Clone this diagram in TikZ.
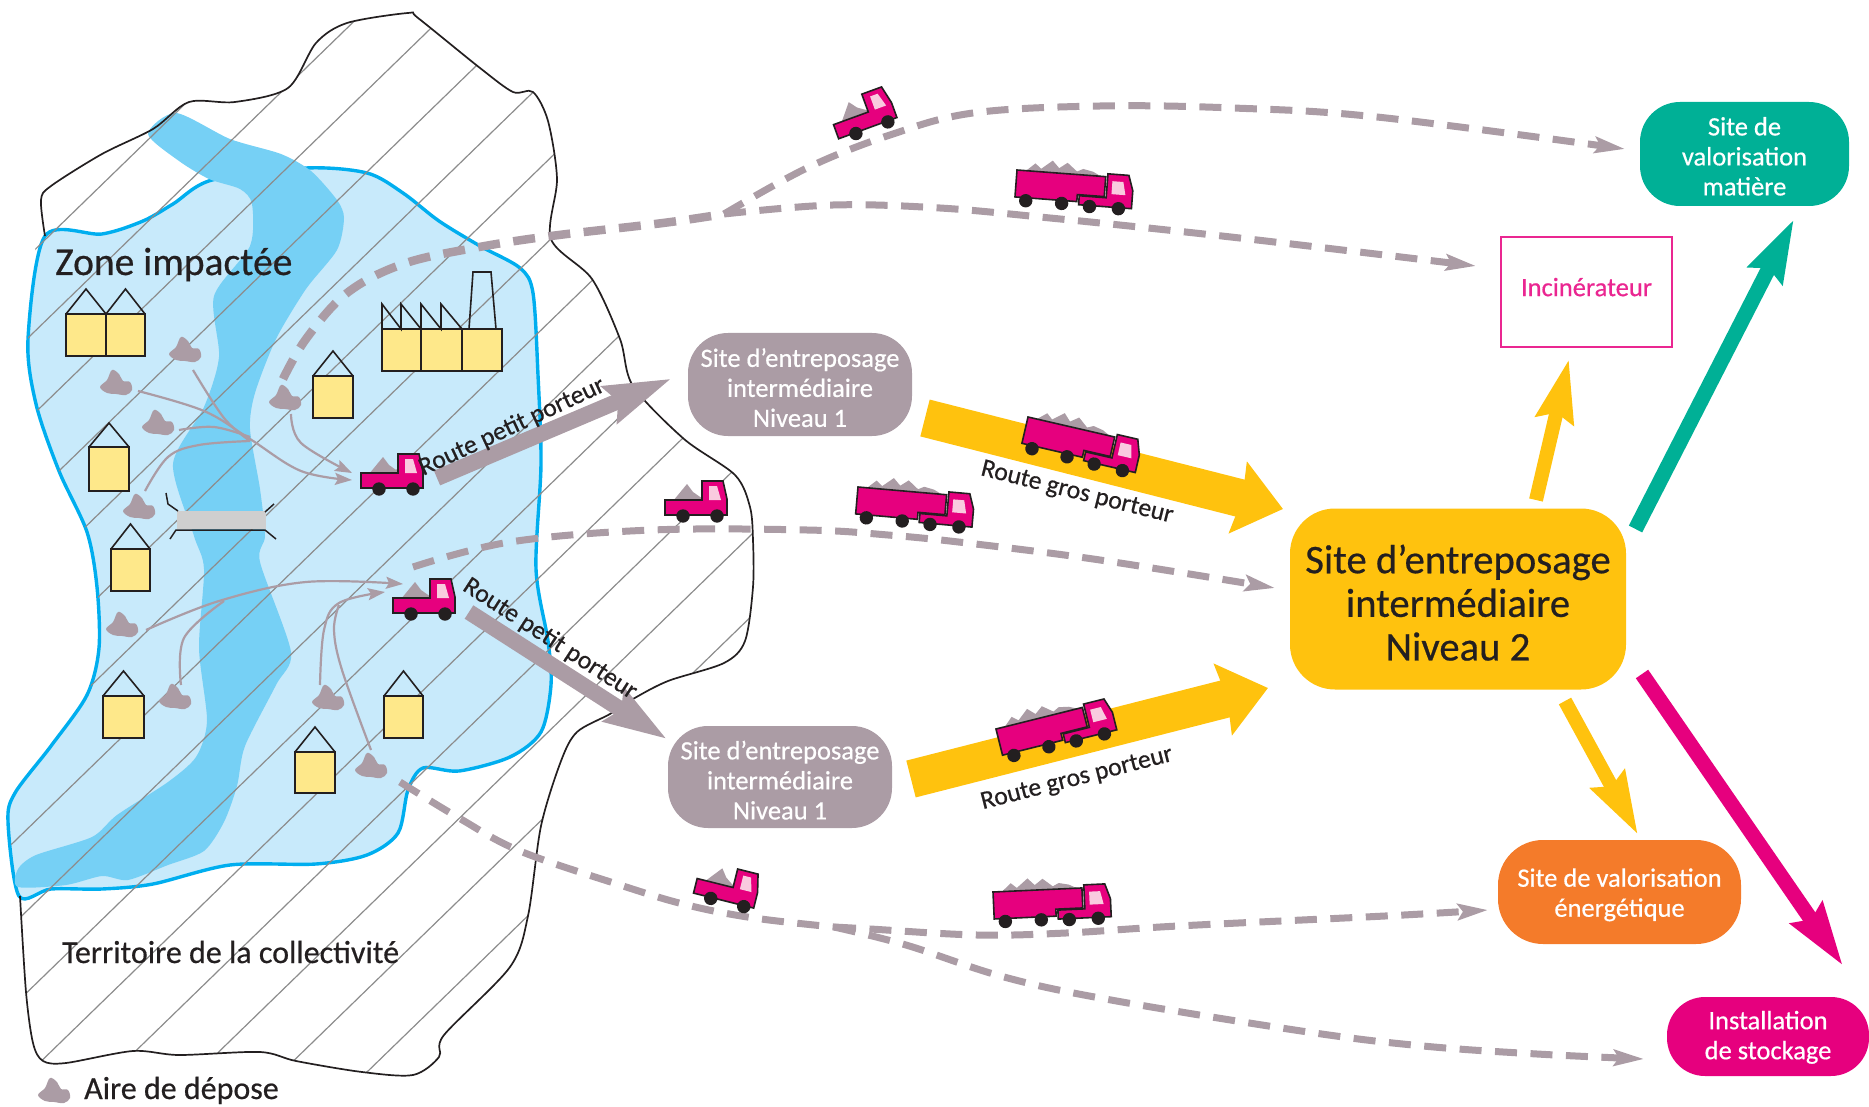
\documentclass[tikz,border=0pt]{standalone}
\usepackage{fontspec}
\setmainfont[FakeBold=0.5]{Carlito}
\usetikzlibrary{arrows.meta,calc}
\definecolor{mauve}{HTML}{AB9CA5}
\definecolor{zone}{HTML}{C8EAFB}
\definecolor{riv}{HTML}{76D0F5}
\definecolor{zoneline}{HTML}{00AEEF}
\definecolor{hatch}{HTML}{8C8C8C}
\definecolor{ink}{HTML}{231F20}
\definecolor{pinkm}{HTML}{E6007E}
\definecolor{lpink}{HTML}{F9CBDF}
\definecolor{yel}{HTML}{FFC20E}
\definecolor{teal2}{HTML}{00B096}
\definecolor{orng}{HTML}{F47B2A}
\definecolor{hous}{HTML}{FEE88A}
\tikzset{
 x=1pt,y=-1pt,
 sitebox/.style={inner sep=0pt,align=center,text=white,font=\fontsize{26.5}{30}\selectfont},
 roadtext/.style={inner sep=0pt,text=ink,font=\fontsize{25.7}{30}\selectfont},
 planetext/.style={inner sep=0pt,anchor=base west,text=ink},
 thin arrow/.style={draw=mauve,line width=2.2pt,-{Stealth[length=17pt,width=12pt,inset=3pt]}},
 thin line/.style={draw=mauve,line width=2.2pt},
 dashroad/.style={draw=mauve,line width=7pt,dash pattern=on 22pt off 13.5pt},
 dashtip/.style={dashroad,-{Stealth[length=30pt,width=16pt,inset=5pt]}},
 bigtip/.style={-{Stealth[length=#1,width=37pt,inset=7pt]}},
 housebody/.style={draw=ink,line width=1.6pt,fill=hous},
 roofline/.style={draw=ink,line width=1.6pt},
}
\newcommand\house[5]{% x1 x2 ytop ybot yapex
 \draw[housebody] (#1,#3) rectangle (#2,#4);
 \draw[roofline] (#1,#3) -- ({(#1+#2)/2},#5) -- (#2,#3);}
\newcommand\pile[2]{\fill[mauve,shift={(#1,#2)}] plot[smooth cycle,tension=.6] coordinates {(-16,4) (-9,-3) (-4,-13) (3,-9) (7,-2) (14,-1) (16,7) (10,12) (0,11) (-9,10)};}
\newcommand\smalltruck[3]{\begin{scope}[shift={(#1,#2)},rotate=#3]
 \fill[mauve] (-23,0) -- (-9,-17) -- (-3,-9) -- (7,-2) -- (7,0) -- cycle;
 \draw[draw=ink,line width=1.6pt,fill=pinkm] (-31,-1) -- (6,-1) -- (6,-20) -- (27,-20) -- (31,-2) -- (31,14) -- (-31,14) -- cycle;
 \fill[lpink] (13,-15) -- (21,-15) -- (25,-1) -- (13,-1) -- cycle;
 \fill[ink] (-13,15) circle (6.7) (21,15) circle (6.7);
\end{scope}}
\newcommand\bigtruck[3]{\begin{scope}[shift={(#1,#2)},rotate=#3]
 \fill[mauve] (8,1) -- (18,-8) -- (24,-3) -- (35,-12) -- (42,-5) -- (50,-11) -- (60,-3) -- (66,-6) -- (76,-4) -- (86,1) -- cycle;
 \draw[draw=ink,line width=1.6pt,fill=pinkm] (64,21) -- (91,21) -- (91,-3) -- (112,-3) -- (117,12) -- (117,30) -- (64,30) -- cycle;
 \draw[draw=ink,line width=1.6pt,fill=pinkm] (0,0) -- (89,0) -- (89,20) -- (62,20) -- (62,27) -- (0,27) -- cycle;
 \fill[lpink] (96,4) -- (107,4) -- (110,17) -- (96,17) -- cycle;
 \fill[ink] (11,30) circle (6.7) (47,30) circle (6.7) (75,31) circle (6.7) (104,31) circle (6.7);
\end{scope}}
\begin{document}
\begin{tikzpicture}
\useasboundingbox (0,0) rectangle (1869,1107);
% impacted zone
\filldraw[fill=zone,draw=zoneline,line width=3.4pt] plot[smooth cycle,tension=.5] coordinates {
 (45,236) (102,234) (143,221) (173,204) (212,180) (306,168) (367,173) (403,193) (439,221) (480,246) (520,268) (533,293) (538,375) (541,464) (536,569) (548,641) (551,685) (541,732) (510,757) (459,771) (423,768) (408,790) (398,833) (367,855) (316,864) (230,865) (153,884) (102,889) (51,889) (19,896) (8,822) (15,793) (51,746) (87,695) (99,648) (97,587) (87,532) (59,471) (36,404) (28,339)};
% river
\fill[riv] plot[smooth cycle,tension=.45] coordinates {
 (176,113) (230,139) (281,154) (311,171) (337,200) (344,218) (337,250) (306,289) (276,339) (255,393) (250,429) (260,489) (265,536) (260,562) (291,652) (276,685) (245,746) (237,786) (224,822) (204,851) (168,865) (128,880) (102,876) (66,885) (18,887) (18,869) (36,855) (92,837) (117,815) (168,782) (196,757) (207,721) (199,648) (204,569) (194,536) (173,464) (204,407) (219,357) (214,296) (250,246) (252,204) (240,189) (209,179) (179,161) (148,134)};
% hatching
\begin{scope}
\clip plot[smooth cycle,tension=.5] coordinates {
 (408,13) (418,18) (480,68) (513,92) (533,92) (548,121) (557,179) (551,239) (592,279) (620,339) (633,386) (684,439) (735,475) (750,507) (753,540) (753,587) (745,641) (724,663) (668,681) (633,699) (610,714) (577,732) (561,761) (541,826) (528,916) (510,967) (444,1035) (439,1057) (413,1075) (362,1072) (296,1061) (260,1052) (179,1055) (133,1051) (66,1063) (43,1061) (33,1043) (26,992) (20,896) (8,822) (15,793) (51,746) (87,695) (99,648) (97,587) (87,532) (59,471) (36,404) (28,339) (41,200) (51,186) (102,154) (153,129) (189,102) (235,102) (288,88) (316,43) (347,23)};
\foreach \c in {292,376,460,544,628,713,797,881,965,1049,1134,1218,1302,1386,1471}
 \draw[hatch,line width=1.2pt] (\c,0) -- (\c-1140,1107);
\end{scope}
% territory outline
\draw[ink,line width=1.7pt] plot[smooth,tension=.5] coordinates {
 (20,896) (26,992) (33,1043) (43,1061) (66,1063) (133,1051) (179,1055) (260,1052) (296,1061) (362,1072) (413,1075) (439,1057) (444,1035) (510,967) (528,916) (541,826) (561,761) (577,732) (610,714) (633,699) (668,681) (724,663) (745,641) (753,587) (753,540) (750,507) (735,475) (684,439) (633,386) (620,339) (592,279) (551,239) (557,179) (548,121) (533,92) (513,92) (480,68) (418,18) (408,13) (347,23) (316,43) (288,88) (235,102) (189,102) (153,129) (102,154) (51,186) (41,200) (45,236)};
% bridge
\fill[black!19] (177,511) rectangle (266,529);
\draw[ink,line width=1.5pt] (170,539) -- (176,530) -- (265,530) -- (276,539);
\draw[ink,line width=1.5pt] (166,493) -- (168,504) -- (178,511);
\draw[ink,line width=1.5pt] (274,504) -- (265,512);
% buildings
\house{66}{106}{314}{356}{289}
\house{106}{145}{314}{356}{289}
\house{313}{353}{376}{418}{351}
\house{89}{129}{447}{491}{423}
\house{111}{150}{549}{591}{524}
\house{103}{144}{696}{738}{671}
\house{384}{423}{696}{738}{671}
\house{295}{335}{752}{793}{727}
\draw[housebody] (382,329) rectangle (421,371);
\draw[housebody] (421,329) rectangle (462,371);
\draw[housebody] (462,329) rectangle (502,371);
\draw[roofline] (382,329) -- (382,304) -- (401,329) -- (401,304) -- (421,329) -- (421,304) -- (441,329) -- (441,304) -- (462,329);
\draw[roofline] (469,329) -- (473,272) -- (491,272) -- (496,329);
% piles
\pile{185}{350}\pile{116}{383}\pile{158}{423}\pile{139}{507}\pile{285}{398}
\pile{122}{625}\pile{175}{697}\pile{328}{698}\pile{371}{766}
% thin arrows
\coordinate (ca) at (352,480); \coordinate (cb) at (352,473);
\coordinate (cc) at (403,584); \coordinate (cd) at (385,592);
\draw[thin arrow] plot[smooth,tension=.6] coordinates {(138,391) (204,411) (250,439) (301,471) (ca)};
\draw[thin line] plot[smooth,tension=.6] coordinates {(193,370) (224,418) (250,441)};
\draw[thin line] plot[smooth,tension=.6] coordinates {(179,430) (214,427) (250,437)};
\draw[thin line] plot[smooth,tension=.6] coordinates {(145,491) (168,457) (199,445) (250,441)};
\draw[thin arrow] plot[smooth,tension=.6] coordinates {(291,414) (301,443) (cb)};
\draw[thin arrow] plot[smooth,tension=.6] coordinates {(146,630) (219,601) (306,582) (cc)};
\draw[thin line] plot[smooth,tension=.6] coordinates {(181,685) (184,638) (224,601)};
\draw[thin arrow] plot[smooth,tension=.6] coordinates {(320,685) (324,630) (339,603) (cd)};
\draw[thin line] plot[smooth,tension=.6] coordinates {(371,750) (342,670) (334,630) (339,605)};
% nodes
\node[sitebox,fill=mauve,minimum width=224pt,minimum height=103pt,rounded corners=40pt] (n1a) at (800,384.5) {\rule{0pt}{25pt}Site d’entreposage\\intermédiaire\\Niveau 1};
\node[sitebox,fill=mauve,minimum width=224pt,minimum height=102pt,rounded corners=40pt] (n1b) at (780,777) {\rule{0pt}{25pt}Site d’entreposage\\intermédiaire\\Niveau 1};
\node[sitebox,fill=yel,text=ink,minimum width=336pt,minimum height=181pt,rounded corners=45pt,font=\fontsize{40.7}{43.6}\selectfont] (n2) at (1458,599) {\rule{0pt}{36pt}Site d’entreposage\\intermédiaire\\Niveau 2};
\node[sitebox,fill=teal2,minimum width=209pt,minimum height=104pt,rounded corners=40pt] (vm) at (1744.5,154) {\rule{0pt}{23pt}Site de\\valorisation\\matière};
\node[sitebox,draw=pinkm!85!white,line width=1.8pt,text=pinkm!85!white,minimum width=171pt,minimum height=110pt] (inc) at (1586.5,292) {Incinérateur\rule[-10pt]{0pt}{0pt}};
\node[sitebox,fill=orng,minimum width=243pt,minimum height=104pt,rounded corners=45pt] (ve) at (1619.5,892) {\rule{0pt}{24pt}Site de valorisation\\énergétique};
\node[sitebox,fill=pinkm,minimum width=202pt,minimum height=79pt,rounded corners=38pt] (st) at (1768,1036.5) {\rule{0pt}{20pt}Installation\\de stockage};
% dashed roads
\coordinate (fork) at (724,214);
\coordinate (tipinc) at (1476,266);
\coordinate (tipvm) at (1625,149);
\coordinate (tipn2) at (1275,588);
\coordinate (tipve) at (1488,910);
\coordinate (tipst) at (1644,1059);
\coordinate (fork2) at (834,927);
\draw[dashroad,line width=8.5pt] plot[smooth,tension=.6] coordinates {(283,379) (306,339) (347,293) (403,264) (474,248) (551,236) (663,223) (fork)};
\draw[dashtip] plot[smooth,tension=.6] coordinates {(fork) (833,205) (940,208) (1050,218) (1167,230) (1283,243) (tipinc)};
\draw[dashtip] plot[smooth,tension=.6] coordinates {(fork) (807,168) (890,135) (973,113) (1100,106) (1233,108) (1377,117) (tipvm)};
\draw[dashtip] plot[smooth,tension=.6] coordinates {(413,567) (510,542) (652,530) (807,530) (888,535) (967,543) (1100,560) (tipn2)};
\draw[dashroad] plot[smooth,tension=.6] coordinates {(400,782) (459,818) (520,851) (620,885) (687,905) (754,918) (fork2)};
\draw[dashtip] plot[smooth,tension=.6] coordinates {(fork2) (906,945) (1004,977) (1111,1000) (1308,1032) (1423,1046) (1537,1054) (tipst)};
\draw[dashtip] plot[smooth,tension=.6] coordinates {(fork2) (870,929) (977,935) (1066,933) (1178,926) (1385,916) (tipve)};
% block arrows
\draw[mauve,line width=16pt,-{Stealth[length=66pt,width=38pt,inset=8pt]}] ($(n1a)+(-363,93.5)$) -- ($(n1a.west)+(-16,-6)$);
\draw[mauve,line width=16pt,-{Stealth[length=62pt,width=38pt,inset=8pt]}] ($(n1b)+(-311,-165)$) -- ($(n1b.west)+(-1,-38)$);
\draw[yel,line width=38pt,-{Stealth[length=46pt,width=72pt,inset=4pt]}] (925,418) -- (1283,509);
\draw[yel,line width=38pt,-{Stealth[length=46pt,width=72pt,inset=4pt]}] (911,779) -- (1268,688);
\draw[yel,line width=14pt,bigtip=62pt] ($(n2)+(78,-99)$) -- ($(inc.south)+(-17.5,11)$);
\draw[yel,line width=14pt,bigtip=62pt] ($(n2)+(107,102)$) -- ($(ve.north)+(18.5,-5)$);
\draw[teal2,line width=15pt,bigtip=62pt] ($(n2)+(177.5,-70)$) -- ($(vm.south)+(49.5,13)$);
\draw[pinkm,line width=15pt,bigtip=63pt] ($(n2)+(184,75)$) -- ($(st.north)+(75,-31)$);
% trucks
\smalltruck{392}{474}{0}
\smalltruck{424}{599}{0}
\smalltruck{696}{501}{0}
\smalltruck{863}{115}{20}
\smalltruck{727}{887}{-14}
\bigtruck{1017}{170}{-4.3}
\bigtruck{1028}{417}{-13}
\bigtruck{858}{487}{-5}
\bigtruck{996}{729}{14}
\bigtruck{993}{892}{2.6}
% labels
\node[planetext,font=\fontsize{39.5}{40}\selectfont] (zi) at (55,275) {Zone impactée};
\node[planetext,font=\fontsize{32}{34}\selectfont] (tc) at (62,963) {Territoire de la collectivité};
\pile{54}{1091}
\node[planetext,font=\fontsize{32}{34}\selectfont] (ad) at (84,1099) {Aire de dépose};
\node[roadtext,rotate=25] (r1) at (512,427) {Route petit porteur};
\node[roadtext,rotate=-33] (r2) at (550,639) {Route petit porteur};
\node[roadtext,rotate=-14] (r3) at (1077,493) {Route gros porteur};
\node[roadtext,rotate=14.3] (r4) at (1077,779) {Route gros porteur};
\end{tikzpicture}
\end{document}
